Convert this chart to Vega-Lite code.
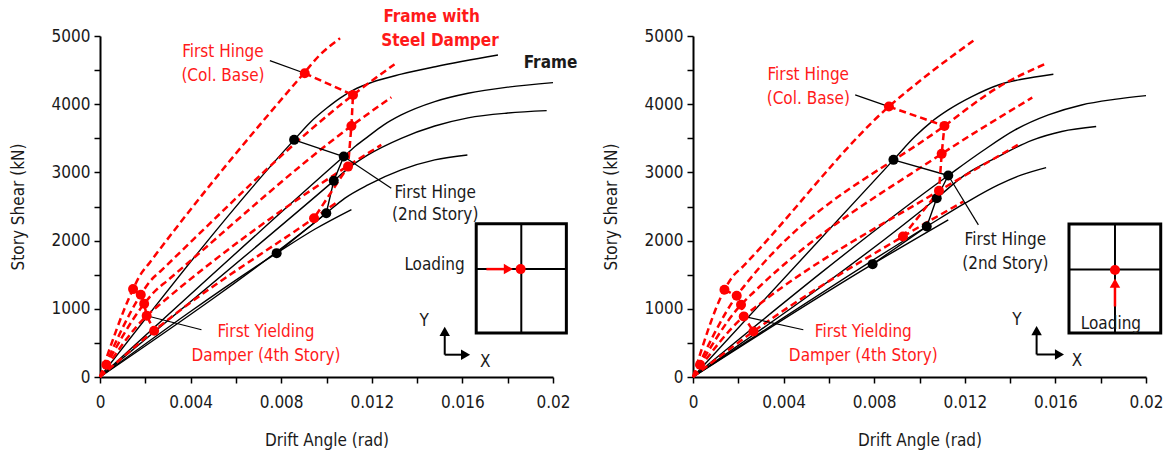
{
"$schema": "https://vega.github.io/schema/vega-lite/v6.json",
"padding": {"left": 9, "top": 7, "right": 5, "bottom": 2},
"background": "white",
"data": {"values": [
{"t":"F","p":"L","s":1,"x":0,"y":0},{"t":"F","p":"L","s":1,"x":0.00857,"y":3477},{"t":"F","p":"L","s":1,"x":0.0093,"y":3740},{"t":"F","p":"L","s":1,"x":0.0100,"y":3940},{"t":"F","p":"L","s":1,"x":0.0106,"y":4090},{"t":"F","p":"L","s":1,"x":0.0112,"y":4210},{"t":"F","p":"L","s":1,"x":0.0120,"y":4320},{"t":"F","p":"L","s":1,"x":0.0133,"y":4440},{"t":"F","p":"L","s":1,"x":0.0148,"y":4550},{"t":"F","p":"L","s":1,"x":0.01757,"y":4721},
{"t":"F","p":"L","s":2,"x":0,"y":0},{"t":"F","p":"L","s":2,"x":0.01076,"y":3232},{"t":"F","p":"L","s":2,"x":0.0113,"y":3390},{"t":"F","p":"L","s":2,"x":0.01183,"y":3525},{"t":"F","p":"L","s":2,"x":0.0125,"y":3690},{"t":"F","p":"L","s":2,"x":0.0133,"y":3842},{"t":"F","p":"L","s":2,"x":0.01478,"y":4038},{"t":"F","p":"L","s":2,"x":0.01625,"y":4160},{"t":"F","p":"L","s":2,"x":0.018,"y":4250},{"t":"F","p":"L","s":2,"x":0.02,"y":4316},
{"t":"F","p":"L","s":3,"x":0,"y":0},{"t":"F","p":"L","s":3,"x":0.01032,"y":2876},{"t":"F","p":"L","s":3,"x":0.011,"y":3070},{"t":"F","p":"L","s":3,"x":0.01183,"y":3256},{"t":"F","p":"L","s":3,"x":0.0133,"y":3500},{"t":"F","p":"L","s":3,"x":0.01478,"y":3680},{"t":"F","p":"L","s":3,"x":0.01625,"y":3800},{"t":"F","p":"L","s":3,"x":0.018,"y":3870},{"t":"F","p":"L","s":3,"x":0.01972,"y":3906},
{"t":"F","p":"L","s":4,"x":0,"y":0},{"t":"F","p":"L","s":4,"x":0.00999,"y":2402},{"t":"F","p":"L","s":4,"x":0.0108,"y":2620},{"t":"F","p":"L","s":4,"x":0.01183,"y":2817},{"t":"F","p":"L","s":4,"x":0.0133,"y":3037},{"t":"F","p":"L","s":4,"x":0.01478,"y":3183},{"t":"F","p":"L","s":4,"x":0.01622,"y":3256},
{"t":"F","p":"L","s":5,"x":0,"y":0},{"t":"F","p":"L","s":5,"x":0.0078,"y":1816},{"t":"F","p":"L","s":5,"x":0.0095,"y":2170},{"t":"F","p":"L","s":5,"x":0.0111,"y":2455},
{"t":"D","p":"L","s":1,"x":0,"y":0},{"t":"D","p":"L","s":1,"x":0.00146,"y":1289},{"t":"D","p":"L","s":1,"x":0.00175,"y":1480},{"t":"D","p":"L","s":1,"x":0.0022,"y":1680},{"t":"D","p":"L","s":1,"x":0.009,"y":4453},{"t":"D","p":"L","s":1,"x":0.0097,"y":4720},{"t":"D","p":"L","s":1,"x":0.0106,"y":4966},
{"t":"D","p":"L","s":2,"x":0,"y":0},{"t":"D","p":"L","s":2,"x":0.0018,"y":1206},{"t":"D","p":"L","s":2,"x":0.0022,"y":1400},{"t":"D","p":"L","s":2,"x":0.0027,"y":1560},{"t":"D","p":"L","s":2,"x":0.01117,"y":4135},{"t":"D","p":"L","s":2,"x":0.013,"y":4585},
{"t":"D","p":"L","s":3,"x":0,"y":0},{"t":"D","p":"L","s":3,"x":0.00195,"y":1074},{"t":"D","p":"L","s":3,"x":0.0024,"y":1250},{"t":"D","p":"L","s":3,"x":0.003,"y":1420},{"t":"D","p":"L","s":3,"x":0.0111,"y":3681},{"t":"D","p":"L","s":3,"x":0.01286,"y":4101},
{"t":"D","p":"L","s":4,"x":0,"y":0},{"t":"D","p":"L","s":4,"x":0.00206,"y":898},{"t":"D","p":"L","s":4,"x":0.0027,"y":1080},{"t":"D","p":"L","s":4,"x":0.0109,"y":3085},{"t":"D","p":"L","s":4,"x":0.01242,"y":3403},
{"t":"D","p":"L","s":5,"x":0,"y":0},{"t":"D","p":"L","s":5,"x":0.00239,"y":679},{"t":"D","p":"L","s":5,"x":0.00945,"y":2329},{"t":"D","p":"L","s":5,"x":0.01051,"y":2573},
{"t":"HF","p":"L","i":0,"x":0.00857,"y":3477},{"t":"HF","p":"L","i":1,"x":0.01076,"y":3232},{"t":"HF","p":"L","i":2,"x":0.01032,"y":2876},{"t":"HF","p":"L","i":3,"x":0.00999,"y":2402},{"t":"HF","p":"L","i":4,"x":0.0078,"y":1816},
{"t":"HD","p":"L","i":0,"x":0.00904,"y":4453},{"t":"HD","p":"L","i":1,"x":0.01117,"y":4135},{"t":"HD","p":"L","i":2,"x":0.0111,"y":3681},{"t":"HD","p":"L","i":3,"x":0.01095,"y":3085},{"t":"HD","p":"L","i":4,"x":0.00945,"y":2329},
{"t":"YD","p":"L","i":0,"x":0.00146,"y":1289},{"t":"YD","p":"L","i":1,"x":0.0018,"y":1206},{"t":"YD","p":"L","i":2,"x":0.00195,"y":1074},{"t":"YD","p":"L","i":3,"x":0.00206,"y":898},{"t":"YD","p":"L","i":4,"x":0.00239,"y":679},
{"t":"LD","p":"L","s":"a","i":0,"x":0.0075,"y":4639},{"t":"LD","p":"L","s":"a","i":1,"x":0.00904,"y":4453},
{"t":"LD","p":"L","s":"b","i":0,"x":0.01076,"y":3232},{"t":"LD","p":"L","s":"b","i":1,"x":0.01286,"y":2768},
{"t":"LD","p":"L","s":"c","i":0,"x":0.00206,"y":898},{"t":"LD","p":"L","s":"c","i":1,"x":0.00448,"y":693},
{"t":"DR","p":"L","x":0.00028,"y":180},
{"t":"B","p":"L","x":0.01661,"x2":0.02059,"y":645,"y2":2246},
{"t":"G","p":"L","x":0.0186,"x2":0.0186,"y":645,"y2":2246},{"t":"G","p":"L","x":0.01661,"x2":0.02059,"y":1582,"y2":1582},
{"t":"AR","p":"L","x":0.01706,"x2":0.0180,"y":1582,"y2":1582},
{"t":"H","p":"L","c":"r","d":"right","x":0.01803,"y":1582},
{"t":"ID","p":"L","x":0.01857,"y":1582},
{"t":"AK","p":"L","x":0.01522,"x2":0.01522,"y":327,"y2":640},{"t":"AK","p":"L","x":0.01522,"x2":0.016,"y":327,"y2":327},
{"t":"H","p":"L","c":"k","d":"up","x":0.01522,"y":669},{"t":"H","p":"L","c":"k","d":"right","x":0.01614,"y":327},
{"t":"TR","p":"L","txt":"First Hinge","x":0.00543,"y":4761},{"t":"TR","p":"L","txt":"(Col. Base)","x":0.00543,"y":4414},
{"t":"TR","p":"L","txt":"First Yielding","x":0.00733,"y":654},{"t":"TR","p":"L","txt":"Damper (4th Story)","x":0.00733,"y":303},
{"t":"TK","p":"L","txt":"First Hinge","x":0.0148,"y":2695},{"t":"TK","p":"L","txt":"(2nd Story)","x":0.0148,"y":2370},
{"t":"TK","p":"L","txt":"Loading","x":0.01477,"y":1645},{"t":"TK","p":"L","txt":"Y","x":0.01431,"y":815},{"t":"TK","p":"L","txt":"X","x":0.01701,"y":225},
{"t":"TRB","p":"L","txt":"Frame with","x":0.01464,"y":5283},{"t":"TRB","p":"L","txt":"Steel Damper","x":0.01501,"y":4932},
{"t":"TKB","p":"L","txt":"Frame","x":0.01989,"y":4600},

{"t":"F","p":"R","s":1,"x":0,"y":0},{"t":"F","p":"R","s":1,"x":0.00885,"y":3184},{"t":"F","p":"R","s":1,"x":0.0098,"y":3525},{"t":"F","p":"R","s":1,"x":0.01054,"y":3745},{"t":"F","p":"R","s":1,"x":0.01127,"y":3916},{"t":"F","p":"R","s":1,"x":0.01231,"y":4111},{"t":"F","p":"R","s":1,"x":0.01348,"y":4282},{"t":"F","p":"R","s":1,"x":0.01451,"y":4365},{"t":"F","p":"R","s":1,"x":0.01591,"y":4439},
{"t":"F","p":"R","s":2,"x":0,"y":0},{"t":"F","p":"R","s":2,"x":0.01127,"y":2954},{"t":"F","p":"R","s":2,"x":0.01275,"y":3306},{"t":"F","p":"R","s":2,"x":0.01422,"y":3623},{"t":"F","p":"R","s":2,"x":0.01569,"y":3843},{"t":"F","p":"R","s":2,"x":0.01716,"y":3989},{"t":"F","p":"R","s":2,"x":0.0186,"y":4070},{"t":"F","p":"R","s":2,"x":0.02,"y":4125},
{"t":"F","p":"R","s":3,"x":0,"y":0},{"t":"F","p":"R","s":3,"x":0.01076,"y":2622},{"t":"F","p":"R","s":3,"x":0.01201,"y":2964},{"t":"F","p":"R","s":3,"x":0.01348,"y":3232},{"t":"F","p":"R","s":3,"x":0.01496,"y":3470},{"t":"F","p":"R","s":3,"x":0.01628,"y":3600},{"t":"F","p":"R","s":3,"x":0.0178,"y":3672},
{"t":"F","p":"R","s":4,"x":0,"y":0},{"t":"F","p":"R","s":4,"x":0.01032,"y":2207},{"t":"F","p":"R","s":4,"x":0.01201,"y":2549},{"t":"F","p":"R","s":4,"x":0.01348,"y":2817},{"t":"F","p":"R","s":4,"x":0.01451,"y":2964},{"t":"F","p":"R","s":4,"x":0.01559,"y":3071},
{"t":"F","p":"R","s":5,"x":0,"y":0},{"t":"F","p":"R","s":5,"x":0.00793,"y":1655},{"t":"F","p":"R","s":5,"x":0.01127,"y":2305},
{"t":"D","p":"R","s":1,"x":0,"y":0},{"t":"D","p":"R","s":1,"x":0.00139,"y":1279},{"t":"D","p":"R","s":1,"x":0.0017,"y":1450},{"t":"D","p":"R","s":1,"x":0.0022,"y":1620},{"t":"D","p":"R","s":1,"x":0.00865,"y":3965},{"t":"D","p":"R","s":1,"x":0.01054,"y":4478},{"t":"D","p":"R","s":1,"x":0.01238,"y":4932},
{"t":"D","p":"R","s":2,"x":0,"y":0},{"t":"D","p":"R","s":2,"x":0.00193,"y":1191},{"t":"D","p":"R","s":2,"x":0.0024,"y":1390},{"t":"D","p":"R","s":2,"x":0.0111,"y":3682},{"t":"D","p":"R","s":2,"x":0.01348,"y":4250},{"t":"D","p":"R","s":2,"x":0.01562,"y":4600},
{"t":"D","p":"R","s":3,"x":0,"y":0},{"t":"D","p":"R","s":3,"x":0.00212,"y":1060},{"t":"D","p":"R","s":3,"x":0.0027,"y":1250},{"t":"D","p":"R","s":3,"x":0.01098,"y":3272},{"t":"D","p":"R","s":3,"x":0.01498,"y":4097},
{"t":"D","p":"R","s":4,"x":0,"y":0},{"t":"D","p":"R","s":4,"x":0.00224,"y":888},{"t":"D","p":"R","s":4,"x":0.0029,"y":1060},{"t":"D","p":"R","s":4,"x":0.01086,"y":2730},{"t":"D","p":"R","s":4,"x":0.01434,"y":3403},
{"t":"D","p":"R","s":5,"x":0,"y":0},{"t":"D","p":"R","s":5,"x":0.00267,"y":668},{"t":"D","p":"R","s":5,"x":0.00927,"y":2061},{"t":"D","p":"R","s":5,"x":0.01194,"y":2573},
{"t":"HF","p":"R","i":0,"x":0.00885,"y":3184},{"t":"HF","p":"R","i":1,"x":0.01127,"y":2954},{"t":"HF","p":"R","i":2,"x":0.01076,"y":2622},{"t":"HF","p":"R","i":3,"x":0.01032,"y":2207},{"t":"HF","p":"R","i":4,"x":0.00793,"y":1655},
{"t":"HD","p":"R","i":0,"x":0.00865,"y":3965},{"t":"HD","p":"R","i":1,"x":0.0111,"y":3682},{"t":"HD","p":"R","i":2,"x":0.01098,"y":3272},{"t":"HD","p":"R","i":3,"x":0.01086,"y":2730},{"t":"HD","p":"R","i":4,"x":0.00927,"y":2061},
{"t":"YD","p":"R","i":0,"x":0.00139,"y":1279},{"t":"YD","p":"R","i":1,"x":0.00193,"y":1191},{"t":"YD","p":"R","i":2,"x":0.00212,"y":1060},{"t":"YD","p":"R","i":3,"x":0.00224,"y":888},{"t":"YD","p":"R","i":4,"x":0.00267,"y":668},
{"t":"LD","p":"R","s":"a","i":0,"x":0.00716,"y":4136},{"t":"LD","p":"R","s":"a","i":1,"x":0.00865,"y":3965},
{"t":"LD","p":"R","s":"b","i":0,"x":0.01127,"y":2954},{"t":"LD","p":"R","s":"b","i":1,"x":0.0126,"y":2231},
{"t":"LD","p":"R","s":"c","i":0,"x":0.00224,"y":888},{"t":"LD","p":"R","s":"c","i":1,"x":0.00487,"y":693},
{"t":"DR","p":"R","x":0.00031,"y":180},
{"t":"B","p":"R","x":0.0166,"x2":0.02065,"y":645,"y2":2244},
{"t":"G","p":"R","x":0.01863,"x2":0.01863,"y":645,"y2":2244},{"t":"G","p":"R","x":0.0166,"x2":0.02065,"y":1575,"y2":1575},
{"t":"AR","p":"R","x":0.01863,"x2":0.01863,"y":1034,"y2":1340},
{"t":"H","p":"R","c":"r","d":"up","x":0.01863,"y":1377},
{"t":"ID","p":"R","x":0.01863,"y":1570},
{"t":"AK","p":"R","x":0.01517,"x2":0.01517,"y":330,"y2":640},{"t":"AK","p":"R","x":0.01517,"x2":0.016,"y":330,"y2":330},
{"t":"H","p":"R","c":"k","d":"up","x":0.01517,"y":680},{"t":"H","p":"R","c":"k","d":"right","x":0.01618,"y":330},
{"t":"TR","p":"R","txt":"First Hinge","x":0.00509,"y":4429},{"t":"TR","p":"R","txt":"(Col. Base)","x":0.00509,"y":4077},
{"t":"TR","p":"R","txt":"First Yielding","x":0.00752,"y":654},{"t":"TR","p":"R","txt":"Damper (4th Story)","x":0.00752,"y":303},
{"t":"TK","p":"R","txt":"First Hinge","x":0.01379,"y":2012},{"t":"TK","p":"R","txt":"(2nd Story)","x":0.01379,"y":1660},
{"t":"TK","p":"R","txt":"Loading","x":0.01845,"y":781},{"t":"TK","p":"R","txt":"Y","x":0.0143,"y":830},{"t":"TK","p":"R","txt":"X","x":0.01695,"y":240}
]},
"facet": {"column": {"field": "p", "type": "nominal", "sort": ["L", "R"], "header": {"title": null, "labels": false}}},
"spacing": 140,
"bounds": "flush",
"resolve": {"axis": {"x": "independent", "y": "independent"}},
"spec": {
  "width": 453,
  "height": 341,
  "encoding": {
    "x": {"field": "x", "type": "quantitative", "scale": {"domain": [0, 0.02], "nice": false, "zero": false},
      "axis": {"title": "Drift Angle (rad)", "values": [0,0.002,0.004,0.006,0.008,0.01,0.012,0.014,0.016,0.018,0.02],
        "labelExpr": "abs(datum.value*250 - round(datum.value*250)) < 0.01 ? (datum.value == 0 ? '0' : format(datum.value, '.3~f')) : ''",
        "labelOverlap": false, "labelFlush": false, "labelPadding": 11, "titlePadding": 22}},
    "y": {"field": "y", "type": "quantitative", "scale": {"domain": [0, 5000], "nice": false, "zero": false},
      "axis": {"title": "Story Shear (kN)", "values": [0,500,1000,1500,2000,2500,3000,3500,4000,4500,5000],
        "labelExpr": "datum.value % 1000 == 0 ? format(datum.value, 'd') : ''",
        "labelOverlap": false, "labelFlush": false, "labelPadding": 4, "titlePadding": 24}}
  },
  "layer": [
    {"transform": [{"filter": "datum.t == 'F'"}], "mark": {"type": "line", "color": "black", "strokeWidth": 1.4, "interpolate": "monotone"}, "encoding": {"detail": {"field": "s"}}},
    {"transform": [{"filter": "datum.t == 'D'"}], "mark": {"type": "line", "color": "#ff0000", "strokeWidth": 2.5, "strokeDash": [7, 4], "interpolate": "monotone"}, "encoding": {"detail": {"field": "s"}}},
    {"transform": [{"filter": "datum.t == 'HF'"}], "mark": {"type": "line", "color": "black", "strokeWidth": 1.4}, "encoding": {"order": {"field": "i"}}},
    {"transform": [{"filter": "datum.t == 'HD' || datum.t == 'YD'"}], "mark": {"type": "line", "color": "#ff0000", "strokeWidth": 2.5, "strokeDash": [7, 4]}, "encoding": {"detail": {"field": "t"}, "order": {"field": "i"}}},
    {"transform": [{"filter": "datum.t == 'LD'"}], "mark": {"type": "line", "color": "black", "strokeWidth": 1.2}, "encoding": {"detail": {"field": "s"}, "order": {"field": "i"}}},
    {"transform": [{"filter": "datum.t == 'HF'"}], "mark": {"type": "point", "filled": true, "color": "black", "size": 100, "opacity": 1}},
    {"transform": [{"filter": "datum.t == 'HD' || datum.t == 'YD' || datum.t == 'DR'"}], "mark": {"type": "point", "filled": true, "color": "#ff0000", "size": 100, "opacity": 1}},
    {"transform": [{"filter": "datum.t == 'B'"}], "mark": {"type": "rect", "fill": "white", "fillOpacity": 0, "stroke": "black", "strokeWidth": 3}, "encoding": {"x2": {"field": "x2"}, "y2": {"field": "y2"}}},
    {"transform": [{"filter": "datum.t == 'G'"}], "mark": {"type": "rule", "color": "black", "strokeWidth": 2}, "encoding": {"x2": {"field": "x2"}, "y2": {"field": "y2"}}},
    {"transform": [{"filter": "datum.t == 'AR'"}], "mark": {"type": "rule", "color": "#ff0000", "strokeWidth": 2.5}, "encoding": {"x2": {"field": "x2"}, "y2": {"field": "y2"}}},
    {"transform": [{"filter": "datum.t == 'AK'"}], "mark": {"type": "rule", "color": "black", "strokeWidth": 2}, "encoding": {"x2": {"field": "x2"}, "y2": {"field": "y2"}}},
    {"transform": [{"filter": "datum.t == 'H'"}], "mark": {"type": "point", "filled": true, "size": 110, "opacity": 1},
      "encoding": {"shape": {"field": "d", "type": "nominal", "scale": {"domain": ["right", "up"], "range": ["triangle-right", "triangle-up"]}, "legend": null},
                   "color": {"field": "c", "type": "nominal", "scale": {"domain": ["k", "r"], "range": ["black", "#ff0000"]}, "legend": null}}},
    {"transform": [{"filter": "datum.t == 'ID'"}], "mark": {"type": "point", "filled": true, "color": "#ff0000", "size": 100, "opacity": 1}},
    {"transform": [{"filter": "datum.t == 'TR'"}], "mark": {"type": "text", "color": "#ff1a1a", "fontSize": 17, "align": "center", "baseline": "middle"}, "encoding": {"text": {"field": "txt"}}},
    {"transform": [{"filter": "datum.t == 'TK'"}], "mark": {"type": "text", "color": "#1a1a1a", "fontSize": 17, "align": "center", "baseline": "middle"}, "encoding": {"text": {"field": "txt"}}},
    {"transform": [{"filter": "datum.t == 'TRB'"}], "mark": {"type": "text", "color": "#ff1a1a", "fontSize": 17, "fontWeight": "bold", "align": "center", "baseline": "middle"}, "encoding": {"text": {"field": "txt"}}},
    {"transform": [{"filter": "datum.t == 'TKB'"}], "mark": {"type": "text", "color": "#1a1a1a", "fontSize": 17, "fontWeight": "bold", "align": "center", "baseline": "middle"}, "encoding": {"text": {"field": "txt"}}}
  ]
},
"config": {
  "font": "'DejaVu Sans Condensed', 'Liberation Sans', sans-serif",
  "view": {"stroke": null},
  "axis": {"grid": false, "domainColor": "black", "domainWidth": 2, "tickColor": "black", "tickWidth": 1.5, "tickSize": 6,
    "labelFont": "'DejaVu Sans Condensed', 'Liberation Sans', sans-serif", "titleFont": "'DejaVu Sans Condensed', 'Liberation Sans', sans-serif", "labelFontSize": 17, "titleFontSize": 17,
    "titleFontWeight": "normal", "labelColor": "#1a1a1a", "titleColor": "#1a1a1a"}
}
}
